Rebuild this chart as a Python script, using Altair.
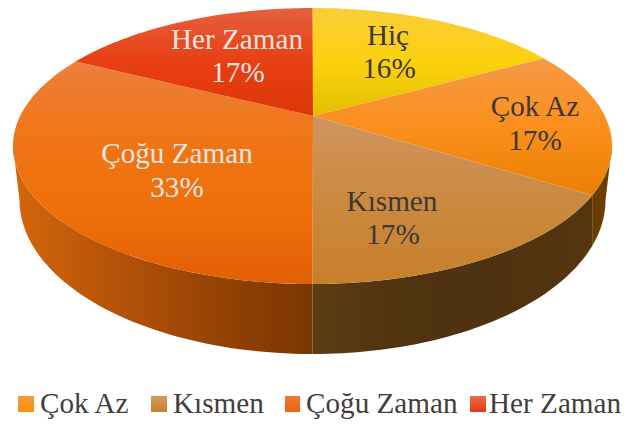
import math
import altair as alt
import pandas as pd

# --- values
categories = ["Hiç", "Çok Az", "Kısmen", "Çoğu Zaman", "Her Zaman"]
shares = [16, 17, 17, 33.49, 16.51]
percent_labels = ["16%", "17%", "17%", "33%", "17%"]
legend_categories = ["Çok Az", "Kısmen", "Çoğu Zaman", "Her Zaman"]

# --- layout (page pixels)
W, H = 614, 412
TOP = dict(cx=312.5, cy=146.0, rx=299.5, ry=138.0)
BOTTOM = dict(cx=312.5, cy=200.0, rx=293.0, ry=154.0)
APEX = (313.0, 116.0)
K = 0.15  # perspective shift of the pie's rim
FONT = "Liberation Serif"
FS = 29.2
DARK = "#3c3836"
LIGHT = "#e9e5e1"
LABEL_POS = [
    ((388, 45), (389, 78), DARK),
    ((535, 116), (535, 150), DARK),
    ((392, 211), (393, 244), DARK),
    ((177, 163), (177, 197), LIGHT),
    ((237, 49), (238, 82), LIGHT),
]
LEGEND_POS = [(18, 34, 40), (151, 167, 173), (285, 300, 306), (470, 486, 489)]
LEGEND_Y = (396, 412, 413)


def vgrad(*stops):
    n = len(stops) - 1
    return dict(gradient="linear", x1=0, y1=0, x2=0, y2=1,
                stops=[dict(offset=i / n, color=c) for i, c in enumerate(stops)])


def hgrad(*stops):
    n = len(stops) - 1
    return dict(gradient="linear", x1=0, y1=0, x2=1, y2=0,
                stops=[dict(offset=i / n, color=c) for i, c in enumerate(stops)])


FACE = [
    vgrad("#f9cd38", "#fbd20e", "#e3bf00"),
    vgrad("#f59a48", "#fb8f1c", "#ea8002"),
    vgrad("#cf9560", "#cb8a40", "#c87f2a"),
    vgrad("#ec7f3e", "#f07515", "#ee6f0a", "#e25f05"),
    vgrad("#e5603f", "#e83f13", "#dc3607"),
]
LEGEND_FILL = [
    vgrad("#fb9a38", "#fb8e12"),
    vgrad("#d59a5c", "#c87f2a"),
    vgrad("#f0763a", "#ec6408"),
    vgrad("#ec6a4c", "#e23a0c"),
]

x_scale = alt.Scale(domain=[8, 8 + W], range=[0, W], zero=False, nice=False)
y_scale = alt.Scale(domain=[8, 8 + H], range=[0, H], zero=False, nice=False)
X = alt.X("x:Q", scale=x_scale, axis=None)
Y = alt.Y("y:Q", scale=y_scale, axis=None)


def project(phi):
    """angle on the flat pie -> (unit x, unit y upward) on the tilted ellipse"""
    s, c = math.sin(phi), math.cos(phi)
    d = 1 + K * c
    return s * math.sqrt(1 - K * K) / d, (c + K) / d


def ellipse_t(phi):
    ux, uy = project(phi)
    return math.atan2(ux, uy) % (2 * math.pi)


def on(e, t):
    return e["cx"] + e["rx"] * math.sin(t), e["cy"] - e["ry"] * math.cos(t)


def polygon(points, fill):
    df = pd.DataFrame(points, columns=["x", "y"])
    df["o"] = range(len(df))
    return alt.Chart(df).mark_line(fill=fill, stroke="transparent", strokeWidth=0).encode(
        x=X, y=Y, order=alt.Order("o:Q")
    )


def wall(t0, t1, b0, b1, fill, n=50):
    top = [on(TOP, t0 + (t1 - t0) * i / n) for i in range(n + 1)]
    bot = [on(BOTTOM, b1 + (b0 - b1) * i / n) for i in range(n + 1)]
    return polygon(top + bot, fill)


# cumulative angles from the shares
bounds = [0.0]
for v in shares:
    bounds.append(bounds[-1] + v / sum(shares) * 2 * math.pi)

t_b = [ellipse_t(b) for b in bounds[:-1]] + [2 * math.pi]

# the wall's seam is vertical, so its foot sits straight below the rim point
seam_x = on(TOP, t_b[2])[0]
seam_foot = math.pi - math.asin(min(1.0, (seam_x - BOTTOM["cx"]) / BOTTOM["rx"]))

layers = [
    wall(math.pi / 2, t_b[2], math.pi / 2, seam_foot, hgrad("#663c02", "#6e4100")),
    wall(t_b[2], t_b[3], seam_foot, math.pi, hgrad("#5c3c14", "#50330f", "#4f3210", "#56360f")),
    wall(t_b[3], 1.5 * math.pi, math.pi, 1.5 * math.pi,
         hgrad("#d4670b", "#b65308", "#954304", "#7a3701")),
]

for i, fill in enumerate(FACE):
    pts = [APEX]
    n = 60
    for j in range(n + 1):
        ux, uy = project(bounds[i] + (bounds[i + 1] - bounds[i]) * j / n)
        pts.append((TOP["cx"] + TOP["rx"] * ux, TOP["cy"] - TOP["ry"] * uy))
    pts.append(pts[0])
    layers.append(polygon(pts, fill))

for name, pct, (p1, p2, col) in zip(categories, percent_labels, LABEL_POS):
    df = pd.DataFrame({"x": [p1[0], p2[0]], "y": [p1[1], p2[1]], "t": [name, pct]})
    layers.append(
        alt.Chart(df)
        .mark_text(font=FONT, fontSize=FS, color=col, align="center", baseline="alphabetic")
        .encode(x=X, y=Y, text="t:N")
    )

for name, fill, (a, b, tx) in zip(legend_categories, LEGEND_FILL, LEGEND_POS):
    rect = pd.DataFrame({"x": [a], "x2": [b], "y": [LEGEND_Y[0]], "y2": [LEGEND_Y[1]]})
    layers.append(alt.Chart(rect).mark_rect(fill=fill).encode(x=X, x2="x2:Q", y=Y, y2="y2:Q"))
    lab = pd.DataFrame({"x": [tx], "y": [LEGEND_Y[2]], "t": [name]})
    layers.append(
        alt.Chart(lab)
        .mark_text(font=FONT, fontSize=FS, color="#433d3b", align="left", baseline="alphabetic")
        .encode(x=X, y=Y, text="t:N")
    )

chart = (
    alt.layer(*layers)
    .properties(width=W, height=H, padding=0, background="white",
                autosize=alt.AutoSizeParams(type="none"))
    .configure_view(stroke=None)
)
chart.save("out.html", embed_options={"renderer": "svg", "actions": False})
